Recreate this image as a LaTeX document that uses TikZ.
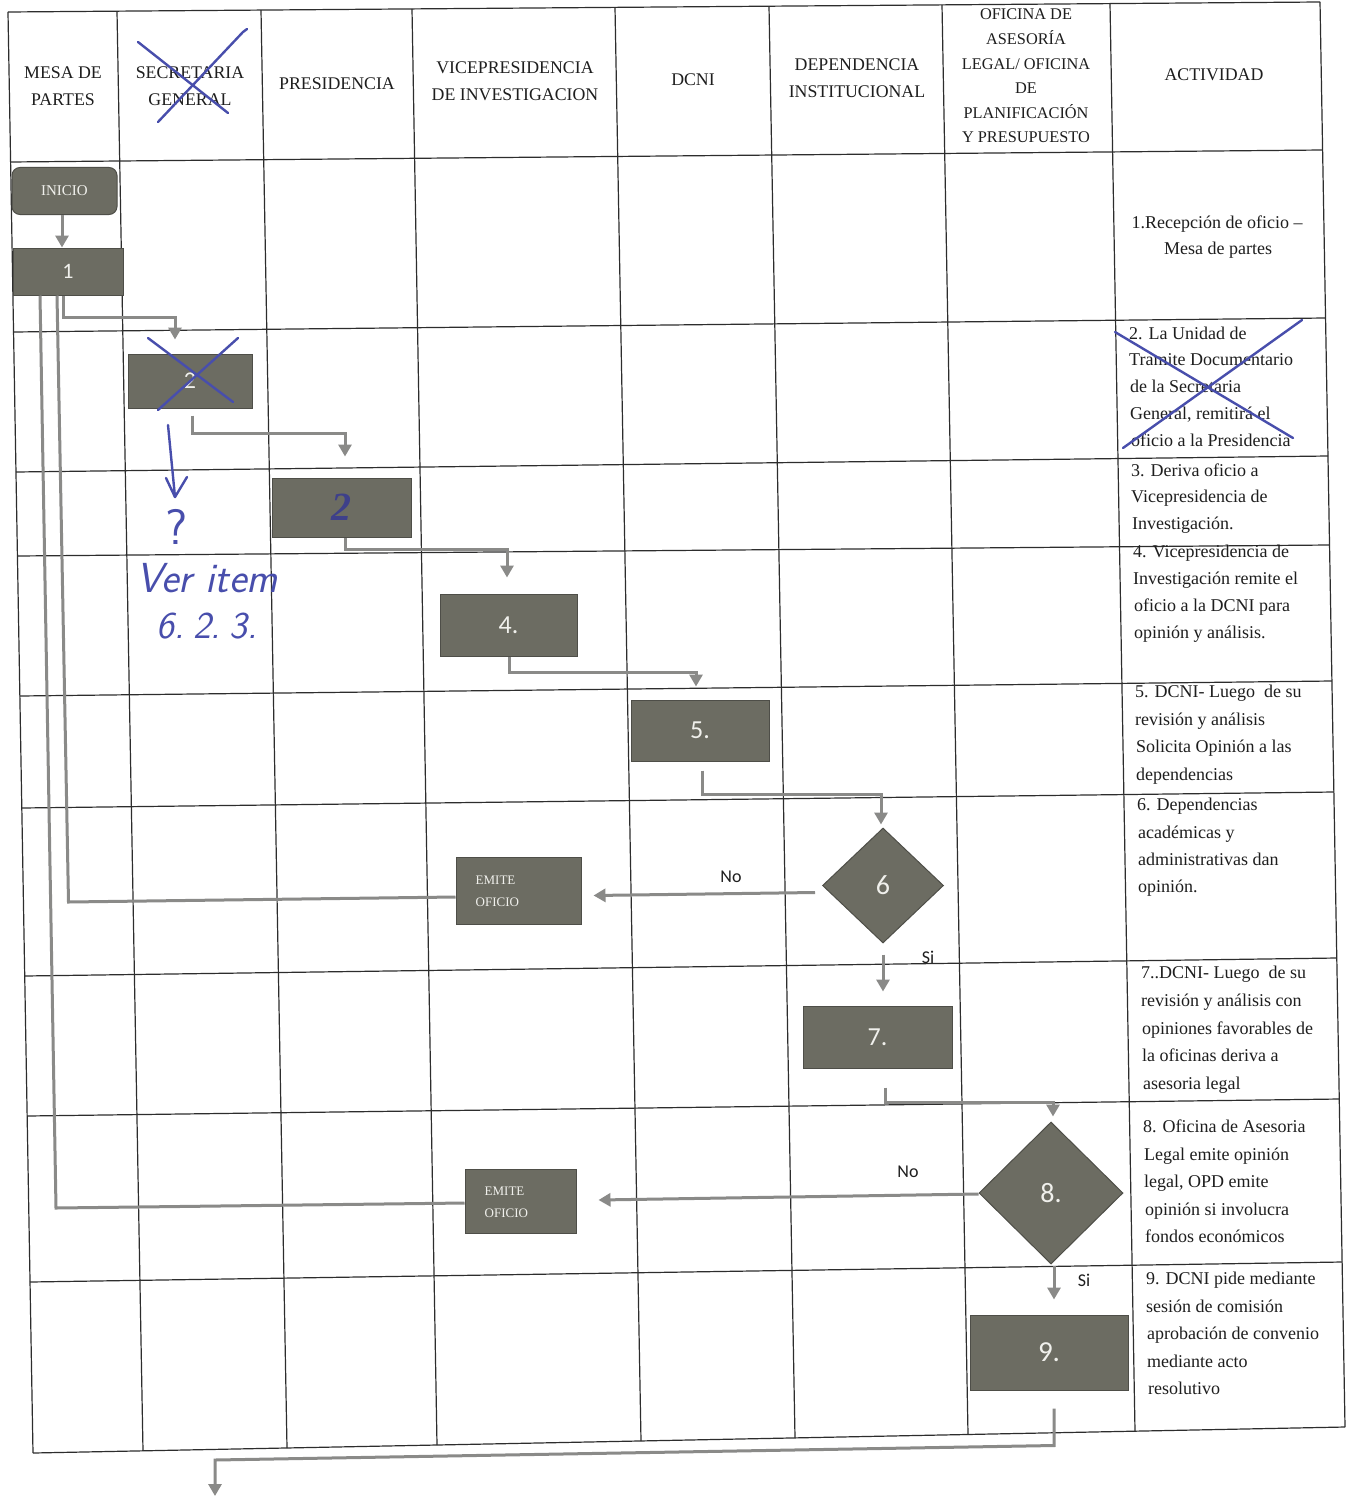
\documentclass[tikz,border=0pt]{standalone}
\usepackage{fontspec}
\setmainfont{Liberation Serif}
\newfontfamily\calf{Carlito}
\usetikzlibrary{arrows.meta,shapes.geometric,calc}
\definecolor{boxfill}{RGB}{108,108,98}
\definecolor{boxedge}{RGB}{78,78,72}
\definecolor{boxtext}{RGB}{240,240,236}
\definecolor{conncol}{RGB}{138,138,136}
\definecolor{inkblue}{RGB}{72,78,172}
\definecolor{inkgray}{RGB}{62,64,138}
\definecolor{gridcol}{RGB}{45,45,45}
\definecolor{txt}{RGB}{30,30,30}
\newcommand\actl[4]{\node[actline] (#1) at (#2,#3) {#4};}
\begin{document}
\begin{tikzpicture}[x=1pt,y=-1pt,
  tline/.style={draw=gridcol,line width=1.2pt},
  procbox/.style={draw=boxedge,fill=boxfill,line width=1pt,inner sep=0pt,text=boxtext,font=\calf\fontsize{26}{26}\selectfont},
  decbox/.style={procbox,diamond},
  conn/.style={draw=conncol,line width=3pt,-{Triangle[length=12pt,width=13pt]}},
  wire/.style={draw=conncol,line width=3pt},
  ink/.style={draw=inkblue,line width=2.4pt,line cap=round,line join=round},
  hdr/.style={font=\fontsize{17.8}{27}\selectfont,align=center,text=txt,inner sep=0pt},
  actline/.style={anchor=west,inner sep=0pt,font=\fontsize{18}{27}\selectfont,text=txt,text height=12pt,text depth=3.5pt},
  lbl/.style={font=\calf\fontsize{18}{18}\selectfont,text=txt,inner sep=0pt},
  hand/.style={text=inkblue,inner sep=0pt,font=\sffamily\itshape},
  emit/.style={anchor=west,inner sep=0pt,align=left,text=boxtext,font=\fontsize{13}{22}\selectfont}
]
\useasboundingbox (0,0) rectangle (1354,1498);
\fill[white] (0,0) rectangle (1354,1498);

% ---- table: vertical lines
\foreach \xa/\ya/\xb/\yb in {8/12/33/1453,117/11.2/143/1450.8,261/10.1/287/1448,412/8.9/437/1445,615/7.4/641/1441,769/6.2/795/1437.9,942/4.9/968/1434.5,1110/3.6/1135/1431.2,1320/2/1345/1427}
  \draw[tline] (\xa,\ya) -- (\xb,\yb);
% ---- table: horizontal lines
\foreach \xa/\ya/\xb/\yb in {8/12/1320/2,10.6/162/1322.6/150,13.55/332/1325.5/318,16/472/1328/456,17.4/556/1329.5/545,19.9/696/1331.9/681,21.8/808/1333.9/792,24.7/976/1336.8/958,27.2/1116/1339.2/1099,30/1282/1342.1/1262,33/1453/1345/1427}
  \draw[tline] (\xa,\ya) -- (\xb,\yb);

% ---- header
\node[hdr] (hmesa) at (63,86) {MESA DE\\PARTES};
\node[hdr] (hsec) at (190,86) {SECRETARIA\\GENERAL};
\node[hdr] (hpres) at (337,84) {PRESIDENCIA};
\node[hdr] (hvice) at (515,81) {VICEPRESIDENCIA\\DE INVESTIGACION};
\node[hdr] (hdcni) at (693,80) {DCNI};
\node[hdr] (hdep) at (857,78) {DEPENDENCIA\\INSTITUCIONAL};
\node[hdr,font=\fontsize{16.3}{24.6}\selectfont] (hofi) at (1026,76) {OFICINA DE\\ASESORÍA\\LEGAL/ OFICINA\\DE\\PLANIFICACIÓN\\Y PRESUPUESTO};
\node[hdr] (hact) at (1214,75) {ACTIVIDAD};

% ---- activity column
\node[actline,anchor=center] (r1a) at (1217,224) {1.Recepción de oficio –};
\node[actline,anchor=center] (r1b) at (1218,250) {Mesa de partes};
\actl{r2a}{1129}{335}{2. La Unidad de}
\actl{r2b}{1129}{361}{Tramite Documentario}
\actl{r2c}{1130}{388}{de la Secretaria}
\actl{r2d}{1130}{415}{General, remitirá el}
\actl{r2e}{1131}{442}{oficio a la Presidencia}
\actl{r3a}{1131}{472}{3. Deriva oficio a}
\actl{r3b}{1131}{498}{Vicepresidencia de}
\actl{r3c}{1132}{525}{Investigación.}
\actl{r4a}{1133}{553}{4. Vicepresidencia de}
\actl{r4b}{1133}{580}{Investigación remite el}
\actl{r4c}{1134}{607}{oficio a la DCNI para}
\actl{r4d}{1134}{634}{opinión y análisis.}
\actl{r5a}{1135}{693}{5. DCNI- Luego~ de su}
\actl{r5b}{1135}{721}{revisión y análisis}
\actl{r5c}{1136}{748}{Solicita Opinión a las}
\actl{r5d}{1136}{776}{dependencias}
\actl{r6a}{1137}{806}{6. Dependencias}
\actl{r6b}{1138}{834}{académicas y}
\actl{r6c}{1138}{861}{administrativas dan}
\actl{r6d}{1138}{888}{opinión.}
\actl{r7a}{1141}{974}{7..DCNI- Luego~ de su}
\actl{r7b}{1141}{1002}{revisión y análisis con}
\actl{r7c}{1142}{1030}{opiniones favorables de}
\actl{r7d}{1142}{1057}{la oficinas deriva a}
\actl{r7e}{1143}{1085}{asesoria legal}
\actl{r8a}{1143}{1128}{8. Oficina de Asesoria}
\actl{r8b}{1144}{1156}{Legal emite opinión}
\actl{r8c}{1144}{1183}{legal, OPD emite}
\actl{r8d}{1145}{1211}{opinión si involucra}
\actl{r8e}{1145}{1238}{fondos económicos}
\actl{r9a}{1146}{1280}{9. DCNI pide mediante}
\actl{r9b}{1146}{1308}{sesión de comisión}
\actl{r9c}{1147}{1335}{aprobación de convenio}
\actl{r9d}{1147}{1363}{mediante acto}
\actl{r9e}{1148}{1390}{resolutivo}

% ---- flow nodes
\node[procbox,rounded corners=8pt,minimum width=105pt,minimum height=47pt,font=\fontsize{15}{15}\selectfont] (inicio) at (64.5,191) {INICIO};
\node[procbox,minimum width=110pt,minimum height=47pt,font=\calf\fontsize{22}{22}\selectfont] (b1) at (68,271.5) {1};
\node[procbox,minimum width=124pt,minimum height=54pt,font=\calf\fontsize{24}{24}\selectfont] (b2) at (190,381) {2};
\node[procbox,minimum width=139pt,minimum height=59pt,font=\itshape\bfseries\fontsize{40}{40}\selectfont,text=inkgray] (b3) at (341.5,507.5) {2};
\node[procbox,minimum width=137pt,minimum height=62pt] (b4) at (508.5,625) {4.};
\node[procbox,minimum width=138pt,minimum height=61pt] (b5) at (700,730.5) {5.};
\node[decbox,minimum width=121pt,minimum height=115pt,font=\calf\fontsize{28}{28}\selectfont] (d6) at (883,885.5) {6};
\node[procbox,minimum width=125pt,minimum height=67pt] (em1) at (518.5,890.5) {};
\node[emit] (em1t) at ($(em1.west)+(20,1)$) {EMITE\\OFICIO};
\node[procbox,minimum width=149pt,minimum height=62pt] (b7) at (877.5,1037) {7.};
\node[decbox,minimum width=144pt,minimum height=142pt,font=\calf\fontsize{28}{28}\selectfont] (d8) at (1051,1193) {8.};
\node[procbox,minimum width=111pt,minimum height=64pt] (em2) at (520.5,1201) {};
\node[emit] (em2t) at ($(em2.west)+(20,1)$) {EMITE\\OFICIO};
\node[procbox,minimum width=158pt,minimum height=75pt,font=\calf\fontsize{29}{29}\selectfont] (b9) at (1049,1352.5) {9.};

% ---- connectors
\draw[conn] ($(inicio.south)+(-2.5,0)$) -- ($(b1.north)+(-6,0)$);
\draw[conn] ($(b1.south)+(-5,0)$) -- ++(0,22) -| ($(b2.north)+(-15,-14)$);
\coordinate (bB) at (68.5,902);
\draw[wire] ($(em1.west)+(0,6.5)$) -- (bB) -- ($(b1.south)+(-11,0)$);
\coordinate (bA) at (56,1208);
\draw[wire] ($(em2.west)+(0,2)$) -- (bA) -- ($(b1.south)+(-28,0)$);
\draw[conn] ($(b2.south)+(2,7)$) -- ++(0,18) -| ($(b3.north)+(3.5,-21)$);
\draw[conn] ($(b3.south)+(3.5,0)$) -- ++(0,12) -| ($(b4.north)+(-1.5,-16)$);
\draw[conn] ($(b4.south)+(0.5,0)$) -- ++(0,16) -| ($(b5.north)+(-4,-13)$);
\draw[conn] ($(b5.south)+(2,9)$) -- ++(0,24) -| ($(d6.north)+(-2,-3)$);
\draw[conn] ($(d6.west)+(-7,7)$) -- ($(em1.east)+(12,5)$);
\draw[conn] ($(d6.south)+(0,11)$) -- ($(b7.north)+(5.5,-14)$);
\draw[conn] ($(b7.south)+(7.5,19)$) -- ++(0,15) -| ($(d8.north)+(2,-5)$);
\draw[conn] ($(d8.west)+(0,1)$) -- ($(em2.east)+(22,-1)$);
\draw[conn] ($(d8.south)+(3,1)$) -- ($(b9.north)+(5,-15)$);
\coordinate (bM) at (215,1460);
\coordinate (endM) at (215,1496);
\draw[conn] ($(b9.south)+(5,18)$) -- ++(0,37) -- (bM) -- (endM);

% ---- decision labels
\node[lbl] (no1) at (731,877) {No};
\node[lbl] (si1) at (928,957) {Si};
\node[lbl] (no2) at (908,1172) {No};
\node[lbl] (si2) at (1084,1280) {Si};

% ---- handwritten ink
\draw[ink] (138,42) -- (228,113);
\draw[ink] (158,122) -- (243,32) -- (247,29);
\draw[ink] (148,338) -- (233,402);
\draw[ink] (158,410) -- (238,338);
\draw[ink] (1115,332) -- (1293,438);
\draw[ink] (1123,448) -- (1302,320);
\draw[ink] (168,425) -- (175,497);
\draw[ink] (166,478) -- (175,497) -- (187,477);
\node[hand,font=\sffamily\fontsize{50}{50}\selectfont] (qm) at (177,527) {?};
\node[hand,font=\sffamily\itshape\fontsize{42}{42}\selectfont] (ver) at (207,578) {Ver item};
\node[hand,font=\sffamily\itshape\fontsize{38}{38}\selectfont] (num) at (207,626) {6.\hspace{9pt}2.\hspace{9pt}3.};
\end{tikzpicture}
\end{document}
